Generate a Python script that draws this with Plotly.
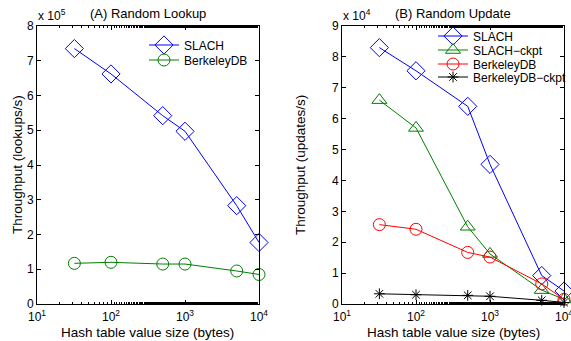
import plotly.graph_objects as go

sizes = [32, 100, 500, 1000, 5000, 10000]

# Panel A: lookups/s (x 1e5)
lookup_slach = [7.35, 6.62, 5.42, 4.97, 2.83, 1.77]
lookup_bdb = [1.17, 1.20, 1.15, 1.15, 0.95, 0.85]

# Panel B: updates/s (x 1e4)
update_slach = [8.30, 7.55, 6.40, 4.52, 0.92, 0.42]
update_slach_ckpt = [6.60, 5.70, 2.50, 1.62, 0.45, 0.15]
update_bdb = [2.57, 2.42, 1.67, 1.52, 0.65, 0.15]
update_bdb_ckpt = [0.33, 0.30, 0.28, 0.25, 0.12, 0.05]

xtickvals = [10, 100, 1000, 10000]
xticktext = ["10<sup>1</sup>", "10<sup>2</sup>", "10<sup>3</sup>", "10<sup>4</sup>"]

W, H = 571, 341
T, B = 26, 37
PH = H - T - B
FONT = "Liberation Sans, Arial, Helvetica, sans-serif"


def py(ypx):
    return 1 - (ypx - T) / PH


fig = go.Figure()

# (trace data, name, color, symbol, size, axes, legend id, legend x px, legend y px)
specs = [
    (lookup_slach, "SLACH", "#0000ff", "diamond-open", 14, ("x", "y"), "legend", 144, 45),
    (lookup_bdb, "BerkeleyDB", "#008000", "circle-open", 12, ("x", "y"), "legend2", 144, 60),
    (update_slach, "SLACH", "#0000ff", "diamond-open", 14, ("x2", "y2"), "legend3", 433, 36),
    (update_slach_ckpt, "SLACH\u2212ckpt", "#008000", "triangle-up-open", 13, ("x2", "y2"), "legend4", 433, 50),
    (update_bdb, "BerkeleyDB", "#ff0000", "circle-open", 12, ("x2", "y2"), "legend5", 433, 64),
    (update_bdb_ckpt, "BerkeleyDB\u2212ckpt", "#000000", "asterisk-open", 9, ("x2", "y2"), "legend6", 433, 77),
]

legends = {}
for ys, name, color, symbol, size, (xa, ya), lg, lx, ly in specs:
    fig.add_trace(go.Scatter(
        x=sizes, y=ys, name=name, mode="lines+markers", cliponaxis=False,
        line=dict(color=color, width=1),
        marker=dict(symbol=symbol, size=size, color=color, line=dict(color=color, width=1)),
        xaxis=xa, yaxis=ya, legend=lg))
    legends[lg] = dict(x=lx / W, y=1 - ly / H, xref="container", yref="container",
                       xanchor="left", yanchor="middle",
                       bgcolor="rgba(0,0,0,0)", font=dict(size=12), itemwidth=30,
                       itemsizing="trace", borderwidth=0)

xcommon = dict(type="log", range=[1, 4], tickvals=xtickvals, ticktext=xticktext,
               ticks="inside", ticklen=4, tickcolor="black", showline=True, linecolor="black",
               linewidth=1, mirror="ticks", showgrid=False, zeroline=False,
               ticklabelstandoff=2, ticklabeloverflow="allow",
               tickfont=dict(size=12, color="black", family=FONT),
               minor=dict(ticks="inside", ticklen=2, tickcolor="black", showgrid=False))
ycommon = dict(ticks="inside", ticklen=4, tickcolor="black", showline=True, linecolor="black",
               linewidth=1, mirror="ticks", showgrid=False, zeroline=False, dtick=1,
               ticklabeloverflow="allow",
               tickfont=dict(size=12, color="black", family=FONT))

fig.update_layout(
    width=W, height=H,
    margin=dict(l=0, r=0, t=T, b=B, autoexpand=False),
    plot_bgcolor="white", paper_bgcolor="white",
    font=dict(family=FONT, color="black", size=12),
    xaxis=dict(domain=[37 / W, 259 / W], anchor="y", **xcommon),
    yaxis=dict(domain=[0, 1], anchor="x", range=[0, 8], **ycommon),
    xaxis2=dict(domain=[342 / W, 564 / W], anchor="y2", **xcommon),
    yaxis2=dict(domain=[0, 1], anchor="x2", range=[0, 9], **ycommon),
    showlegend=True,
    **legends,
)

for txt, xpx, ypx, fs in [
    ("(A) Random Lookup", 148, 13, 13),
    ("(B) Random Update", 453, 13, 13),
    ("Hash table value size (bytes)", 148, 332, 13.5),
    ("Hash table value size (bytes)", 453, 332, 13.5),
]:
    fig.add_annotation(text=txt, x=xpx / W, y=py(ypx), xref="paper", yref="paper",
                       showarrow=False, xanchor="center", yanchor="middle", font=dict(size=fs))
for txt, xpx in [("x 10<sup>5</sup>", 36), ("x 10<sup>4</sup>", 341)]:
    fig.add_annotation(text=txt, x=xpx / W, y=py(15), xref="paper", yref="paper",
                       showarrow=False, xanchor="left", yanchor="middle", font=dict(size=12))
for txt, xpx in [("Throughput (lookups/s)", 17), ("Throughput (updates/s)", 300)]:
    fig.add_annotation(text=txt, x=xpx / W, y=py(165), xref="paper", yref="paper", textangle=-90,
                       showarrow=False, xanchor="center", yanchor="middle", font=dict(size=13.5))

fig.write_html("out.html")
